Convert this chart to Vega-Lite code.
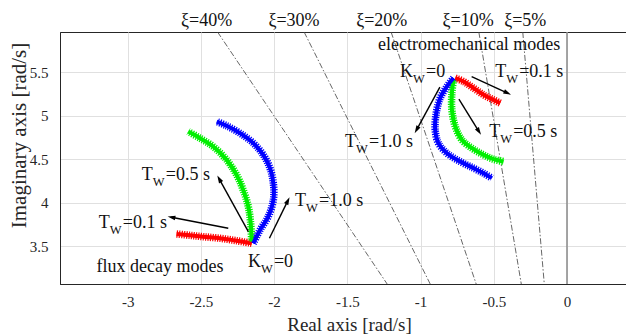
{
  "$schema": "https://vega.github.io/schema/vega-lite/v6.json",
  "width": 566,
  "height": 252,
  "autosize": {"type": "none"},
  "padding": {"left": 60, "top": 32, "right": 0, "bottom": 51},
  "background": "white",
  "config": {"view": {"stroke": "#262626", "strokeWidth": 1}, "font": "Liberation Serif"},
  "datasets": {
    "zero": [{"re": 0}],
    "damp": [
      {"xi": "40%", "re": -2.386, "im": 5.96}, {"xi": "40%", "re": -1.228, "im": 3.067},
      {"xi": "30%", "re": -1.795, "im": 5.96}, {"xi": "30%", "re": -0.934, "im": 3.067},
      {"xi": "20%", "re": -1.201, "im": 5.96}, {"xi": "20%", "re": -0.62, "im": 3.067},
      {"xi": "10%", "re": -0.602, "im": 5.96}, {"xi": "10%", "re": -0.312, "im": 3.067},
      {"xi": "5%", "re": -0.302, "im": 5.96}, {"xi": "5%", "re": -0.155, "im": 3.067}
    ],
    "curves": [
      {"grp": "flux", "tw": "0.1", "i": 1, "re": -2.153, "im": 3.534},
      {"grp": "flux", "tw": "0.1", "i": 2, "re": -2.256, "im": 3.564},
      {"grp": "flux", "tw": "0.1", "i": 3, "re": -2.37, "im": 3.592},
      {"grp": "flux", "tw": "0.1", "i": 4, "re": -2.484, "im": 3.61},
      {"grp": "flux", "tw": "0.1", "i": 5, "re": -2.575, "im": 3.626},
      {"grp": "flux", "tw": "0.1", "i": 6, "re": -2.666, "im": 3.641},
      {"grp": "flux", "tw": "0.5", "i": 1, "re": -2.153, "im": 3.553},
      {"grp": "flux", "tw": "0.5", "i": 2, "re": -2.16, "im": 3.764},
      {"grp": "flux", "tw": "0.5", "i": 3, "re": -2.176, "im": 3.955},
      {"grp": "flux", "tw": "0.5", "i": 4, "re": -2.211, "im": 4.147},
      {"grp": "flux", "tw": "0.5", "i": 5, "re": -2.256, "im": 4.32},
      {"grp": "flux", "tw": "0.5", "i": 6, "re": -2.324, "im": 4.492},
      {"grp": "flux", "tw": "0.5", "i": 7, "re": -2.416, "im": 4.645},
      {"grp": "flux", "tw": "0.5", "i": 8, "re": -2.506, "im": 4.741},
      {"grp": "flux", "tw": "0.5", "i": 9, "re": -2.586, "im": 4.817},
      {"grp": "flux", "tw": "1.0", "i": 1, "re": -2.142, "im": 3.534},
      {"grp": "flux", "tw": "1.0", "i": 2, "re": -2.096, "im": 3.687},
      {"grp": "flux", "tw": "1.0", "i": 3, "re": -2.04, "im": 3.84},
      {"grp": "flux", "tw": "1.0", "i": 4, "re": -2.005, "im": 4.032},
      {"grp": "flux", "tw": "1.0", "i": 5, "re": -2.005, "im": 4.224},
      {"grp": "flux", "tw": "1.0", "i": 6, "re": -2.028, "im": 4.397},
      {"grp": "flux", "tw": "1.0", "i": 7, "re": -2.074, "im": 4.549},
      {"grp": "flux", "tw": "1.0", "i": 8, "re": -2.142, "im": 4.684},
      {"grp": "flux", "tw": "1.0", "i": 9, "re": -2.233, "im": 4.799},
      {"grp": "flux", "tw": "1.0", "i": 10, "re": -2.324, "im": 4.883},
      {"grp": "flux", "tw": "1.0", "i": 11, "re": -2.392, "im": 4.932},
      {"grp": "em", "tw": "0.1", "i": 1, "re": -0.763, "im": 5.431},
      {"grp": "em", "tw": "0.1", "i": 2, "re": -0.707, "im": 5.392},
      {"grp": "em", "tw": "0.1", "i": 3, "re": -0.638, "im": 5.316},
      {"grp": "em", "tw": "0.1", "i": 4, "re": -0.57, "im": 5.239},
      {"grp": "em", "tw": "0.1", "i": 5, "re": -0.513, "im": 5.19},
      {"grp": "em", "tw": "0.1", "i": 6, "re": -0.456, "im": 5.144},
      {"grp": "em", "tw": "0.5", "i": 1, "re": -0.775, "im": 5.411},
      {"grp": "em", "tw": "0.5", "i": 2, "re": -0.786, "im": 5.259},
      {"grp": "em", "tw": "0.5", "i": 3, "re": -0.786, "im": 5.067},
      {"grp": "em", "tw": "0.5", "i": 4, "re": -0.763, "im": 4.875},
      {"grp": "em", "tw": "0.5", "i": 5, "re": -0.718, "im": 4.722},
      {"grp": "em", "tw": "0.5", "i": 6, "re": -0.649, "im": 4.626},
      {"grp": "em", "tw": "0.5", "i": 7, "re": -0.57, "im": 4.549},
      {"grp": "em", "tw": "0.5", "i": 8, "re": -0.502, "im": 4.5},
      {"grp": "em", "tw": "0.5", "i": 9, "re": -0.433, "im": 4.472},
      {"grp": "em", "tw": "1.0", "i": 1, "re": -0.775, "im": 5.431},
      {"grp": "em", "tw": "1.0", "i": 2, "re": -0.82, "im": 5.334},
      {"grp": "em", "tw": "1.0", "i": 3, "re": -0.866, "im": 5.201},
      {"grp": "em", "tw": "1.0", "i": 4, "re": -0.893, "im": 5.029},
      {"grp": "em", "tw": "1.0", "i": 5, "re": -0.9, "im": 4.837},
      {"grp": "em", "tw": "1.0", "i": 6, "re": -0.878, "im": 4.684},
      {"grp": "em", "tw": "1.0", "i": 7, "re": -0.82, "im": 4.569},
      {"grp": "em", "tw": "1.0", "i": 8, "re": -0.729, "im": 4.472},
      {"grp": "em", "tw": "1.0", "i": 9, "re": -0.638, "im": 4.397},
      {"grp": "em", "tw": "1.0", "i": 10, "re": -0.57, "im": 4.339},
      {"grp": "em", "tw": "1.0", "i": 11, "re": -0.513, "im": 4.282}
    ],
    "arrows": [
      {"re": -2.313, "im": 3.707, "re2": -2.701, "im2": 3.833, "heading": 281},
      {"re": -2.176, "im": 3.668, "re2": -2.375, "im2": 4.274, "heading": 331},
      {"re": -2.032, "im": 3.592, "re2": -1.906, "im2": 4.024, "heading": 26},
      {"re": -0.651, "im": 5.449, "re2": -0.406, "im2": 5.259, "heading": 115},
      {"re": -0.738, "im": 5.19, "re2": -0.601, "im2": 4.817, "heading": 148},
      {"re": -0.868, "im": 5.328, "re2": -1.027, "im2": 4.837, "heading": 209}
    ],
    "sublabels": [
      {"main": "T", "rest": "=0.1 s", "re": -3.122, "im": 3.71},
      {"main": "T", "rest": "=0.5 s", "re": -2.828, "im": 4.262},
      {"main": "T", "rest": "=1.0 s", "re": -1.782, "im": 3.963},
      {"main": "K", "rest": "=0", "re": -2.09, "im": 3.266},
      {"main": "K", "rest": "=0", "re": -1.051, "im": 5.446},
      {"main": "T", "rest": "=0.1 s", "re": -0.415, "im": 5.446},
      {"main": "T", "rest": "=0.5 s", "re": -0.456, "im": 4.756},
      {"main": "T", "rest": "=1.0 s", "re": -1.441, "im": 4.641}
    ],
    "plain": [
      {"txt": "flux decay modes", "re": -2.779, "im": 3.205},
      {"txt": "electromechanical modes", "re": -0.668, "im": 5.756},
      {"txt": "ξ=40%", "re": -2.461, "im": 6.032},
      {"txt": "ξ=30%", "re": -1.864, "im": 6.032},
      {"txt": "ξ=20%", "re": -1.265, "im": 6.032},
      {"txt": "ξ=10%", "re": -0.675, "im": 6.032},
      {"txt": "ξ=5%", "re": -0.285, "im": 6.032}
    ]
  },
  "layer": [
    {
      "data": {"name": "damp"},
      "mark": {"type": "line", "color": "#404040", "strokeWidth": 0.8, "strokeDash": [6, 2, 1.5, 2]},
      "encoding": {
        "x": {
          "field": "re", "type": "quantitative",
          "scale": {"domain": [-3.462, 0.403], "nice": false, "zero": false},
          "axis": {
            "values": [-3, -2.5, -2, -1.5, -1, -0.5, 0],
            "format": "~g",
            "labelExpr": "replace(datum.label, '−', '-')",
            "title": "Real axis [rad/s]",
            "grid": true, "gridColor": "#e0e0e0", "domainColor": "#262626", "ticks": false,
            "labelPadding": 10, "labelFont": "Liberation Serif", "labelFontSize": 15, "labelColor": "#262626",
            "titleFont": "Liberation Serif", "titleFontSize": 19, "titleFontWeight": "normal", "titleColor": "#262626",
            "titleX": 289, "titleY": 46, "titleBaseline": "alphabetic"
          }
        },
        "y": {
          "field": "im", "type": "quantitative",
          "scale": {"domain": [3.067, 5.96], "nice": false, "zero": false},
          "axis": {
            "values": [3.5, 4, 4.5, 5, 5.5],
            "format": "~g",
            "title": "Imaginary axis [rad/s]",
            "grid": true, "gridColor": "#e0e0e0", "domainColor": "#262626", "ticks": false,
            "labelPadding": 12, "labelFont": "Liberation Serif", "labelFontSize": 15, "labelColor": "#262626",
            "titleFont": "Liberation Serif", "titleFontSize": 21, "titleFontWeight": "normal", "titleColor": "#262626",
            "titleX": -35, "titleY": 103, "titleBaseline": "alphabetic", "titleAngle": -90
          }
        },
        "detail": {"field": "xi"}
      }
    },
    {
      "data": {"name": "zero"},
      "mark": {"type": "rule", "color": "#8a8a8a", "strokeWidth": 1.5},
      "encoding": {"x": {"field": "re", "type": "quantitative"}}
    },
    {
      "data": {"name": "curves"},
      "mark": {"type": "line", "strokeWidth": 7.5, "strokeDash": [1.2, 1.2], "interpolate": "catmull-rom"},
      "encoding": {
        "x": {"field": "re", "type": "quantitative"},
        "y": {"field": "im", "type": "quantitative"},
        "color": {"field": "tw", "type": "nominal", "scale": {"domain": ["0.1", "0.5", "1.0"], "range": ["#ff0000", "#00ee00", "#0000ff"]}, "legend": null},
        "detail": {"field": "grp"},
        "order": {"field": "i", "type": "quantitative"}
      }
    },
    {
      "data": {"name": "curves"},
      "mark": {"type": "line", "strokeWidth": 4, "interpolate": "catmull-rom"},
      "encoding": {
        "x": {"field": "re", "type": "quantitative"},
        "y": {"field": "im", "type": "quantitative"},
        "color": {"field": "tw", "type": "nominal", "legend": null},
        "detail": {"field": "grp"},
        "order": {"field": "i", "type": "quantitative"}
      }
    },
    {
      "data": {"name": "arrows"},
      "mark": {"type": "rule", "color": "black", "strokeWidth": 1.4},
      "encoding": {
        "x": {"field": "re", "type": "quantitative"},
        "y": {"field": "im", "type": "quantitative"},
        "x2": {"field": "re2"},
        "y2": {"field": "im2"}
      }
    },
    {
      "data": {"name": "arrows"},
      "mark": {"type": "point", "shape": "M0,-1L0.6,1L-0.6,1Z", "filled": true, "color": "black", "size": 60, "opacity": 1},
      "encoding": {
        "x": {"field": "re2", "type": "quantitative"},
        "y": {"field": "im2", "type": "quantitative"},
        "angle": {"field": "heading", "type": "quantitative", "scale": null}
      }
    },
    {
      "data": {"name": "sublabels"},
      "mark": {"type": "text", "align": "right", "baseline": "alphabetic", "fontSize": 18, "color": "#111111", "font": "Liberation Serif"},
      "encoding": {
        "x": {"field": "re", "type": "quantitative"},
        "y": {"field": "im", "type": "quantitative"},
        "text": {"field": "main"}
      }
    },
    {
      "data": {"name": "sublabels"},
      "mark": {"type": "text", "align": "left", "baseline": "alphabetic", "fontSize": 12.5, "dy": 6, "color": "#111111", "font": "Liberation Serif", "text": "W"},
      "encoding": {
        "x": {"field": "re", "type": "quantitative"},
        "y": {"field": "im", "type": "quantitative"}
      }
    },
    {
      "data": {"name": "sublabels"},
      "mark": {"type": "text", "align": "left", "baseline": "alphabetic", "fontSize": 18, "dx": 13, "color": "#111111", "font": "Liberation Serif"},
      "encoding": {
        "x": {"field": "re", "type": "quantitative"},
        "y": {"field": "im", "type": "quantitative"},
        "text": {"field": "rest"}
      }
    },
    {
      "data": {"name": "plain"},
      "mark": {"type": "text", "align": "center", "baseline": "alphabetic", "fontSize": 18, "color": "#111111", "font": "Liberation Serif"},
      "encoding": {
        "x": {"field": "re", "type": "quantitative"},
        "y": {"field": "im", "type": "quantitative"},
        "text": {"field": "txt"}
      }
    }
  ]
}
